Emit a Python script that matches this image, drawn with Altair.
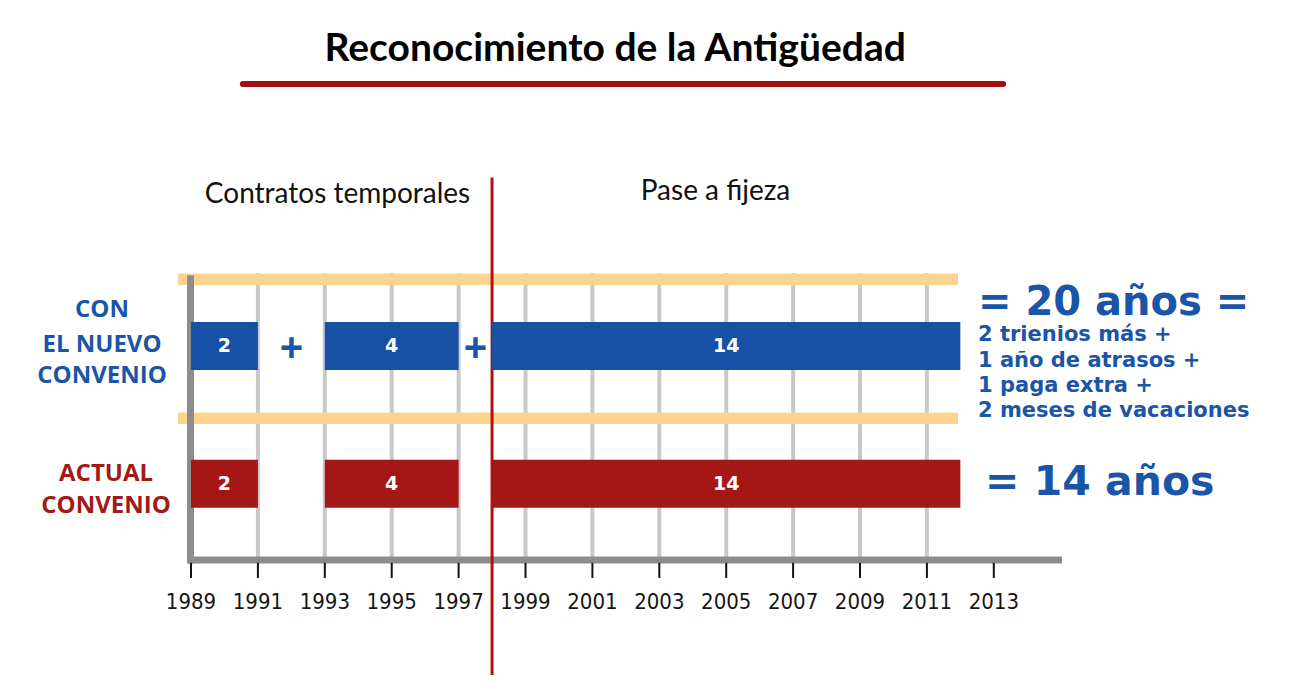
import altair as alt
import pandas as pd

# ---------------- data ----------------
tick_years = list(range(1989, 2014, 2))
grid_years = list(range(1991, 2012, 2))
row_lanes = [1, 2]                       # 1 = con el nuevo convenio, 2 = actual convenio
row_colors = ["#1751a6", "#a51616"]
seg_start = [1989, 1993, 1998]
seg_end = [1991, 1997, 2012]
seg_years = [2, 4, 14]
fijeza_year = 1998
band_lanes = [0.515, 1.524]
label_nuevo = ["CON", "EL NUEVO", "CONVENIO"]
label_actual = ["ACTUAL", "CONVENIO"]
total_nuevo = "= 20 años ="
detail_nuevo = ["2 trienios más +", "1 año de atrasos +", "1 paga extra +", "2 meses de vacaciones"]
total_actual = "= 14 años"
plus_years = [1992, 1997.5]

BLUE = "#1a55a8"
RED = "#a31818"

# ---------------- scales ----------------
X0, X1 = 1983.529, 2021.765
Y0, Y1 = -1.4195, 3.4266
xs = alt.Scale(domain=[X0, X1], nice=False, zero=False)
ys = alt.Scale(domain=[Y0, Y1], nice=False, zero=False, reverse=True)


def X(f):
    return alt.X(f, type="quantitative", scale=xs, axis=None)


def Y(f):
    return alt.Y(f, type="quantitative", scale=ys, axis=None)


def X2(f):
    return alt.X2(f)


def Y2(f):
    return alt.Y2(f)


layers = []

# grid lines
grid_df = pd.DataFrame({"x": grid_years, "y": 0.47, "y2": 2.553})
layers.append(alt.Chart(grid_df).mark_rule(color="#c8c8c8", strokeWidth=4).encode(
    x=X("x"), y=Y("y"), y2=Y2("y2")))

# peach bands
band_df = pd.DataFrame({"y": band_lanes, "x": 1988.61, "x2": 2011.93})
layers.append(alt.Chart(band_df).mark_rule(color="#fbd58f", strokeWidth=11.5).encode(
    x=X("x"), x2=X2("x2"), y=Y("y")))

# axes lines
yaxis_df = pd.DataFrame({"x": [1988.985], "y": [0.485], "y2": [2.58]})
layers.append(alt.Chart(yaxis_df).mark_rule(color="#8d8d8d", strokeWidth=7).encode(
    x=X("x"), y=Y("y"), y2=Y2("y2")))
xaxis_df = pd.DataFrame({"x": [1988.88], "x2": [2015.04], "y": [2.554]})
layers.append(alt.Chart(xaxis_df).mark_rule(color="#8d8d8d", strokeWidth=7).encode(
    x=X("x"), x2=X2("x2"), y=Y("y")))

# ticks
tick_df = pd.DataFrame({"x": tick_years, "y": 2.575, "y2": 2.685})
layers.append(alt.Chart(tick_df).mark_rule(color="#111111", strokeWidth=2).encode(
    x=X("x"), y=Y("y"), y2=Y2("y2")))

# tick labels
tlab_df = pd.DataFrame({"x": tick_years, "y": 2.911, "t": [str(v) for v in tick_years]})
layers.append(alt.Chart(tlab_df).mark_text(
    font="Liberation Sans Narrow, DejaVu Sans Condensed, Lato", fontSize=22,
    color="#151515", align="center", baseline="alphabetic").encode(
    x=X("x"), y=Y("y"), text="t:N"))

# red vertical line (pase a fijeza)
red_df = pd.DataFrame({"x": [fijeza_year], "y": [-0.224], "y2": [3.391]})
layers.append(alt.Chart(red_df).mark_rule(color="#b01212", strokeWidth=3).encode(
    x=X("x"), y=Y("y"), y2=Y2("y2")))

# bars
bars = []
for lane, col in zip(row_lanes, row_colors):
    for s, e, v in zip(seg_start, seg_end, seg_years):
        bars.append({"x": s, "x2": e, "y": lane, "v": str(v), "c": col, "mid": (s + e) / 2})
bar_df = pd.DataFrame(bars)
layers.append(alt.Chart(bar_df).mark_bar(size=48).encode(
    x=X("x"), x2=X2("x2"), y=Y("y"),
    color=alt.Color("c:N", scale=None, legend=None)))
layers.append(alt.Chart(bar_df).mark_text(
    font="DejaVu Sans", fontWeight="bold", fontSize=19, color="white",
    align="center", baseline="middle").encode(
    x=X("mid"), y=Y("y"), text="v:N"))

# plus signs
plus_df = pd.DataFrame({"x": plus_years, "y": 1.025, "t": "+"})
layers.append(alt.Chart(plus_df).mark_text(
    font="Liberation Sans", fontWeight="bold", fontSize=40, color=BLUE,
    align="center", baseline="middle").encode(
    x=X("x"), y=Y("y"), text="t:N"))

# section headings
head_df = pd.DataFrame({"x": [1993.38, 2004.68], "y": [-0.038, -0.059],
                        "t": ["Contratos temporales", "Pase a fijeza"]})
layers.append(alt.Chart(head_df).mark_text(
    font="Lato", fontSize=28, color="#111111", align="center", baseline="alphabetic").encode(
    x=X("x"), y=Y("y"), text="t:N"))

# title + underline
title_df = pd.DataFrame({"x": [2001.68], "y": [-1.069], "t": ["Reconocimiento de la Antigüedad"]})
layers.append(alt.Chart(title_df).mark_text(
    font="Lato", fontWeight="bold", fontSize=39, color="#000000",
    align="center", baseline="alphabetic").encode(
    x=X("x"), y=Y("y"), text="t:N"))
uline_df = pd.DataFrame({"x": [1990.55], "x2": [2013.28], "y": [-0.904]})
layers.append(alt.Chart(uline_df).mark_rule(color="#a50e0e", strokeWidth=6, strokeCap="round").encode(
    x=X("x"), x2=X2("x2"), y=Y("y")))

# row labels
rl_df = pd.DataFrame({
    "x": [1986.34] * 3 + [1986.46] * 2,
    "y": [0.7924, 1.0429, 1.272, 1.984, 2.2098],
    "t": label_nuevo + label_actual,
    "c": [BLUE] * 3 + [RED] * 2,
})
layers.append(alt.Chart(rl_df).mark_text(
    font="Open Sans", fontWeight="bold", fontSize=24, align="center", baseline="alphabetic").encode(
    x=X("x"), y=Y("y"), text="t:N", color=alt.Color("c:N", scale=None, legend=None)))

# right-hand annotations
big_df = pd.DataFrame({"x": [2012.528, 2012.74], "y": [0.778, 2.081], "t": [total_nuevo, total_actual],
                       "s": [40, 41]})
layers.append(alt.Chart(big_df).mark_text(
    font="DejaVu Sans", fontWeight="bold", color=BLUE, align="left", baseline="alphabetic").encode(
    x=X("x"), y=Y("y"), text="t:N", size=alt.Size("s:Q", scale=None, legend=None)))
det_df = pd.DataFrame({"x": 2012.528, "y": [0.964, 1.150, 1.333, 1.516], "t": detail_nuevo})
layers.append(alt.Chart(det_df).mark_text(
    font="DejaVu Sans", fontWeight="bold", fontSize=21, color=BLUE, align="left", baseline="alphabetic").encode(
    x=X("x"), y=Y("y"), text="t:N"))

chart = alt.layer(*layers).properties(
    width=1279, height=677,
    autosize=alt.AutoSizeParams(type="none"),
    padding=0,
).configure_view(stroke=None)

chart.save("out.html", embed_options={"renderer": "svg", "actions": False})
